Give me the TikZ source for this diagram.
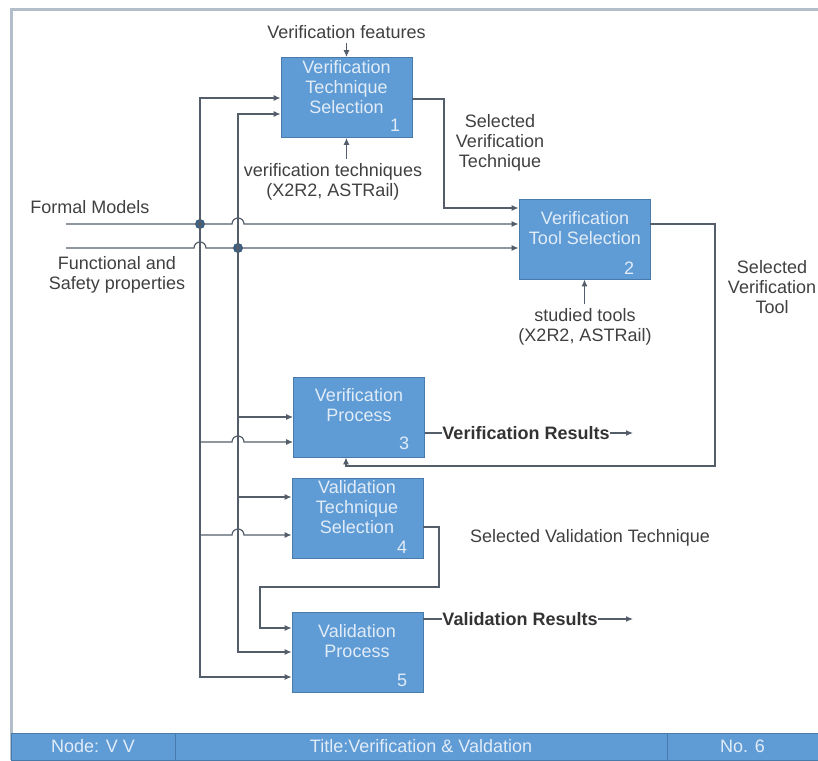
\documentclass[tikz,border=0pt]{standalone}
\usepackage{fontspec}
\setmainfont{Liberation Sans}
\usetikzlibrary{arrows.meta,calc}
\definecolor{boxblue}{RGB}{95,155,212}
\definecolor{boxedge}{RGB}{72,122,170}
\definecolor{boxtxt}{RGB}{225,236,248}
\definecolor{wire}{RGB}{84,94,106}
\definecolor{dotblue}{RGB}{58,96,132}
\definecolor{labgray}{RGB}{64,64,64}
\definecolor{framegray}{RGB}{180,190,202}
\tikzset{
  box/.style={draw=boxedge, fill=boxblue, minimum width=65.5pt, minimum height=40pt},
  boxtext/.style={text=boxtxt, align=center},
  boxnum/.style={text=boxtxt},
  lbl/.style={text=labgray, align=center, inner sep=2pt},
  res/.style={text=black!80, font=\fontsize{9}{10}\selectfont\bfseries},
  flow/.style={draw=wire, line width=0.6pt},
  arr/.style={flow, -{Latex[length=3.5pt,width=3pt]}},
  dot/.style={circle, fill=dotblue, minimum size=5pt},
  cell/.style={draw=boxedge, fill=boxblue, text=boxtxt, minimum height=13.5pt}
}
\begin{document}
\begin{tikzpicture}[x=0.5pt,y=-0.5pt,
    every node/.style={font=\fontsize{9}{10}\selectfont, inner sep=0pt}]
  \useasboundingbox (0,0) rectangle (818,760);
  % frame
  \draw[framegray, line width=1.5pt] (818,9) -- (11,9) -- (11,760);

  % activity boxes
  \node[box] (b1) at (346.5,97.5) {};
  \node[boxtext] (t1) at (346.5,87.5) {Verification\\Technique\\Selection};
  \node[boxnum] (n1) at (395,125) {1};
  \node[box] (b2) at (584.5,239) {};
  \node[boxtext] (t2) at (585,228.5) {Verification\\Tool Selection};
  \node[boxnum] (n2) at (629,268) {2};
  \node[box] (b3) at (359,417) {};
  \node[boxtext] (t3) at (359,405) {Verification\\Process};
  \node[boxnum] (n3) at (404,443) {3};
  \node[box] (b4) at (357.5,518) {};
  \node[boxtext] (t4) at (357,507) {Validation\\Technique\\Selection};
  \node[boxnum] (n4) at (402,547) {4};
  \node[box] (b5) at (357.5,652) {};
  \node[boxtext] (t5) at (357,641) {Validation\\Process};
  \node[boxnum] (n5) at (402,680) {5};

  % texts
  \node[lbl] (vf) at (346.5,32) {Verification features};
  \node[lbl] (vt) at (333,182) {verification techniques\\(X2R2, ASTRail)};
  \node[lbl] (st) at (585,327) {studied tools\\(X2R2, ASTRail)};
  \node[lbl] (svt) at (500,143) {Selected\\Verification\\Technique};
  \node[lbl] (svl) at (772,287) {Selected\\Verification\\Tool};
  \node[lbl] (sva) at (590,538) {Selected Validation Technique};
  \node[lbl] (fmt) at (90,207) {Formal Models};
  \node[lbl] (fst) at (117,275) {Functional and\\Safety properties};
  \node[res] (vres) at (526,433) {Verification Results};
  \node[res] (lres) at (520,619) {Validation Results};

  % points
  \coordinate (fm) at (66,224);
  \coordinate (fs) at (66,248);
  \coordinate (busA) at (200,98);
  \coordinate (busB) at (238,114);
  \coordinate (busAend) at (200,677);
  \coordinate (busBend) at (238,652);
  \coordinate (a3) at (200,442);
  \coordinate (a4) at (200,535);
  \coordinate (bb3) at (238,417);
  \coordinate (bb4) at (238,497);
  \coordinate (o1) at (444,99);
  \coordinate (o1b) at (444,208);
  \coordinate (o2) at (715,224);
  \coordinate (o2b) at (715,466);
  \coordinate (o2c) at (346,466);
  \coordinate (o4) at (439,527);
  \coordinate (o4b) at (439,587);
  \coordinate (o4c) at (260,587);
  \coordinate (o4d) at (260,628);
  \coordinate (vend) at (633,433);
  \coordinate (lend) at (633,619);
  \node[dot] (dotA) at (busA |- fm) {};
  \node[dot] (dotB) at (busB |- fs) {};

  % inputs
  \draw[arr] (fm) -- ($(busB |- fm)+(-6,0)$) arc[start angle=180,end angle=360,radius=6] -- (b2.west |- fm);
  \draw[arr] (fs) -- ($(busA |- fs)+(-6,0)$) arc[start angle=180,end angle=360,radius=6] -- (b2.west |- fs);
  \draw[arr] (dotA.center) -- (busA) -- (b1.west |- busA);
  \draw[arr] (dotA.center) -- (busAend) -- (b5.west |- busAend);
  \draw[arr] (dotB.center) -- (busB) -- (b1.west |- busB);
  \draw[arr] (dotB.center) -- (busBend) -- (b5.west |- busBend);
  \draw[arr] (a3) -- ($(busB |- a3)+(-6,0)$) arc[start angle=180,end angle=360,radius=6] -- (b3.west |- a3);
  \draw[arr] (a4) -- ($(busB |- a4)+(-6,0)$) arc[start angle=180,end angle=360,radius=6] -- (b4.west |- a4);
  \draw[arr] (bb3) -- (b3.west |- bb3);
  \draw[arr] (bb4) -- (b4.west |- bb4);

  % controls
  \draw[arr] (vf.south -| b1.north) -- (b1.north);
  \draw[arr] (vt.north -| b1.south) -- (b1.south);
  \draw[arr] (st.north -| b2.south) -- (b2.south);

  % outputs
  \draw[arr] (b1.east |- o1) -- (o1) -- (o1b) -- (b2.west |- o1b);
  \draw[arr] (b2.east |- o2) -- (o2) -- (o2b) -- (o2c) -- (o2c |- b3.south);
  \draw[arr] (b4.east |- o4) -- (o4) -- (o4b) -- (o4c) -- (o4d) -- (b5.west |- o4d);
  \draw[flow] (b3.east |- vres) -- (vres.west);
  \draw[arr] (vres.east) -- (vend);
  \draw[flow] (b5.east |- lres) -- (lres.west);
  \draw[arr] (lres.east) -- (lend);

  % footer
  \node[cell, minimum width=82pt] (c1) at (93,746.5) {Node: V V};
  \node[cell, minimum width=246pt] (c2) at (421,746.5) {Title:Verification \& Valdation};
  \node[cell, minimum width=75.5pt] (c3) at (742.5,746.5) {No. 6};
\end{tikzpicture}
\end{document}
